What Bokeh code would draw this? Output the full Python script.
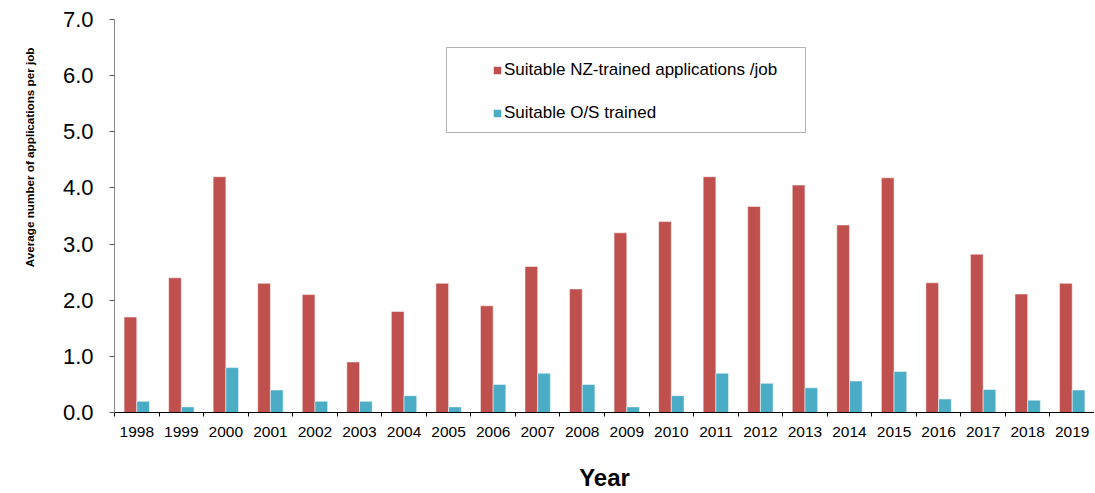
import numpy as np
from bokeh.plotting import figure
from bokeh.models import (Range1d, FixedTicker, Legend, LegendItem, Title,
                          BoxAnnotation, ColumnDataSource, NumeralTickFormatter)
from bokeh.transform import dodge
from bokeh.embed import file_html
from bokeh.resources import INLINE

years = ["1998", "1999", "2000", "2001", "2002", "2003", "2004", "2005", "2006", "2007", "2008",
         "2009", "2010", "2011", "2012", "2013", "2014", "2015", "2016", "2017", "2018", "2019"]
nz_trained = [1.7, 2.4, 4.2, 2.3, 2.1, 0.9, 1.8, 2.3, 1.9, 2.6, 2.2,
              3.2, 3.4, 4.2, 3.67, 4.05, 3.34, 4.18, 2.31, 2.82, 2.11, 2.30]
os_trained = [0.2, 0.1, 0.8, 0.4, 0.2, 0.2, 0.3, 0.1, 0.5, 0.7, 0.5,
              0.1, 0.3, 0.7, 0.52, 0.44, 0.56, 0.73, 0.24, 0.41, 0.22, 0.40]
y_ticks = [0, 1, 2, 3, 4, 5, 6, 7]

FONT = "Liberation Sans"
RED = "#C0504D"
CYAN = "#4BACC6"

n = len(years)
pos = [i + 0.5 for i in range(n)]
bw = 0.285

src = ColumnDataSource(dict(year=years, pos=pos, nz=nz_trained, os=os_trained))

p = figure(width=1094, height=493, output_backend="svg", toolbar_location=None,
           x_range=Range1d(0, n), y_range=Range1d(0, 7),
           min_border_left=113, min_border_right=0, min_border_top=19, min_border_bottom=81)

r1 = p.vbar(x=dodge("pos", -bw / 2, range=p.x_range), top="nz", width=bw, source=src,
            fill_color=RED, line_color="white", line_alpha=0.5, line_width=1)
r2 = p.vbar(x=dodge("pos", bw / 2, range=p.x_range), top="os", width=bw, source=src,
            fill_color=CYAN, line_color="white", line_alpha=0.5, line_width=1)

p.xgrid.visible = False
p.ygrid.visible = False
p.outline_line_color = None

xa = p.xaxis[0]
xa.ticker = FixedTicker(ticks=pos, minor_ticks=list(range(n + 1)))
xa.major_label_overrides = {float(v): y for v, y in zip(pos, years)}
xa.major_tick_line_color = None
xa.major_tick_out = 4
xa.major_tick_in = 0
xa.minor_tick_line_color = "black"
xa.minor_tick_out = 4
xa.minor_tick_in = 0
xa.axis_line_color = "black"
xa.major_label_text_font = FONT
xa.major_label_text_font_size = "15.5px"
xa.major_label_text_color = "black"
xa.major_label_standoff = 10
xa.axis_label = "Year"
xa.axis_label_text_font = FONT
xa.axis_label_text_font_size = "24px"
xa.axis_label_text_font_style = "bold"
xa.axis_label_text_color = "black"
xa.axis_label_standoff = 24

ya = p.yaxis[0]
ya.ticker = FixedTicker(ticks=y_ticks)
ya.formatter = NumeralTickFormatter(format="0.0")
ya.axis_line_color = "#868686"
ya.major_tick_line_color = "#555555"
ya.major_tick_out = 5
ya.major_tick_in = 0
ya.minor_tick_line_color = None
ya.major_label_text_font = FONT
ya.major_label_text_font_size = "22px"
ya.major_label_text_color = "black"
ya.major_label_standoff = 16

# y-axis title, placed near the top of the axis as in the reference
ytitle = Title(text="Average number of applications per job", align="right", offset=28,
               vertical_align="top", standoff=44, text_font=FONT, text_font_size="11.7px",
               text_font_style="bold", text_color="black")
p.add_layout(ytitle, "left")

box = BoxAnnotation(left=332, right=691, bottom=280, top=365,
                    left_units="screen", right_units="screen",
                    top_units="screen", bottom_units="screen",
                    fill_color="white", fill_alpha=1.0, line_color="black", line_width=1)
p.add_layout(box)

legend = Legend(items=[LegendItem(label="Suitable NZ-trained applications /job", renderers=[r1]),
                       LegendItem(label="Suitable O/S trained", renderers=[r2])],
                location=(378, 289), margin=0, padding=0, spacing=23,
                glyph_width=10, glyph_height=10, label_height=20, label_standoff=2,
                label_text_font=FONT, label_text_font_size="17px", label_text_color="black",
                border_line_alpha=0, background_fill_alpha=0)
p.add_layout(legend)

open("out.html", "w").write(file_html(p, INLINE))
